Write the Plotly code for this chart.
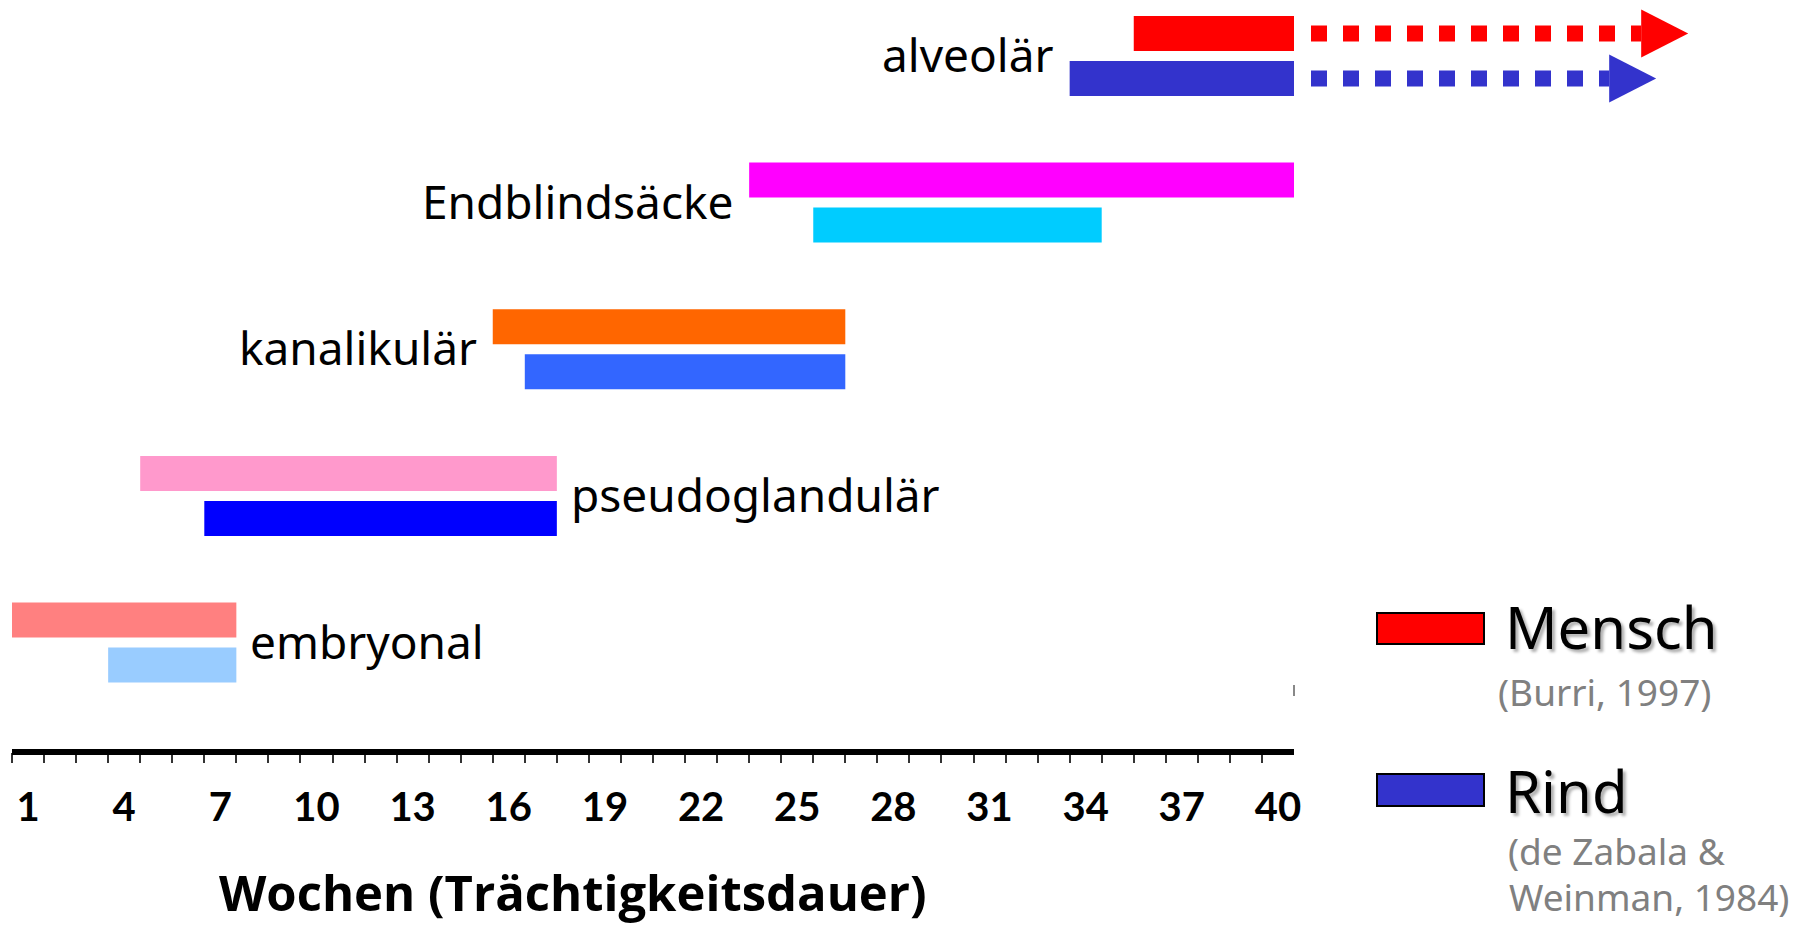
import plotly.graph_objects as go

# ---------------- data ----------------
phases = ["embryonal", "pseudoglandulär", "kanalikulär", "Endblindsäcke", "alveolär"]
# start / end of each phase on a continuous week scale (week w spans [w-1, w])
mensch_start = [0, 4, 15, 23, 35]
mensch_end = [7, 17, 26, 40, 40]
rind_start = [3, 6, 16, 25, 33]
rind_end = [7, 17, 26, 34, 40]
mensch_colors = ["#FF8080", "#FF99CC", "#FF6600", "#FF00FF", "#FF0000"]
rind_colors = ["#99CCFF", "#0000FF", "#3366FF", "#00CCFF", "#3333CC"]
label_side = ["right", "right", "left", "left", "left"]
tick_weeks = [1, 4, 7, 10, 13, 16, 19, 22, 25, 28, 31, 34, 37, 40]
n_weeks = 40
# alveolar phase continues after birth (dotted arrows): arrow tip positions
mensch_arrow_tip = 52.3
rind_arrow_tip = 51.3

# ---------------- geometry / style ----------------
W, H = 1800, 925
PLOT_BOTTOM = 752            # pixel row of the time axis
PX_PER_WEEK = 32.05
X0_PX = 12
ROW_PX = 146.65
ROW0_PX = 642.55
x_range = [-X0_PX / PX_PER_WEEK, (W - X0_PX) / PX_PER_WEEK]
y_range = [(ROW0_PX - PLOT_BOTTOM) / ROW_PX, ROW0_PX / ROW_PX]
off = 22.5 / ROW_PX          # half distance between the two bars of a phase
bar_w = 35 / ROW_PX
tri_half = 24 / ROW_PX
tri_len = 47 / PX_PER_WEEK
dot_start = n_weeks + 17 / PX_PER_WEEK

LABEL_FONT = "Noto Sans"
AXIS_FONT = "Lato"
TITLE_FONT = "Open Sans"


def px(xp):
    return xp / W


def py(yp):
    return (PLOT_BOTTOM - yp) / PLOT_BOTTOM


idx = list(range(len(phases)))
fig = go.Figure()

fig.add_trace(go.Bar(
    orientation="h",
    y=[i + off for i in idx],
    base=mensch_start,
    x=[e - s for s, e in zip(mensch_start, mensch_end)],
    width=bar_w,
    marker=dict(color=mensch_colors, line=dict(width=0)),
    name="Mensch",
    hovertext=phases,
))
fig.add_trace(go.Bar(
    orientation="h",
    y=[i - off for i in idx],
    base=rind_start,
    x=[e - s for s, e in zip(rind_start, rind_end)],
    width=bar_w,
    marker=dict(color=rind_colors, line=dict(width=0)),
    name="Rind",
    hovertext=phases,
))

# dotted continuation + arrow heads for the alveolar phase
alv = phases.index("alveolär")
for yc, tip, col in [(alv + off, mensch_arrow_tip, mensch_colors[alv]),
                     (alv - off, rind_arrow_tip, rind_colors[alv])]:
    base = tip - tri_len
    fig.add_trace(go.Scatter(
        x=[dot_start, base], y=[yc, yc], mode="lines",
        line=dict(color=col, width=16, dash="16px,16px"),
        hoverinfo="skip",
    ))
    fig.add_trace(go.Scatter(
        x=[base, tip, base, base], y=[yc + tri_half, yc, yc - tri_half, yc + tri_half],
        mode="lines", fill="toself", fillcolor=col, line=dict(width=0, color=col),
        hoverinfo="skip",
    ))

annotations = []
# phase labels
for i, name in enumerate(phases):
    if label_side[i] == "left":
        xa = min(mensch_start[i], rind_start[i])
        annotations.append(dict(x=xa, y=i, xref="x", yref="y", text=name, showarrow=False,
                                xanchor="right", yanchor="middle", xshift=-14, yshift=2,
                                font=dict(family=LABEL_FONT, size=46, color="black")))
    else:
        xa = max(mensch_end[i], rind_end[i])
        annotations.append(dict(x=xa, y=i, xref="x", yref="y", text=name, showarrow=False,
                                xanchor="left", yanchor="middle", xshift=12, yshift=2,
                                font=dict(family=LABEL_FONT, size=46, color="black")))

# axis title
annotations.append(dict(x=px(573), y=py(892), xref="paper", yref="paper",
                        text="Wochen (Trächtigkeitsdauer)", showarrow=False,
                        xanchor="center", yanchor="middle", borderpad=0,
                        font=dict(family=TITLE_FONT, size=49, color="black", weight="bold")))

# custom legend text
shadow = "3px 3px 3px #b0b0b0"
annotations += [
    dict(x=px(1503), y=py(626), text="Mensch", xanchor="left", yanchor="middle",
         font=dict(family=LABEL_FONT, size=58, color="black", shadow=shadow)),
    dict(x=px(1496), y=py(691), text="(Burri, 1997)", xanchor="left", yanchor="middle",
         font=dict(family=LABEL_FONT, size=37, color="#808080")),
    dict(x=px(1503), y=py(790), text="Rind", xanchor="left", yanchor="middle",
         font=dict(family=LABEL_FONT, size=58, color="black", shadow=shadow)),
    dict(x=px(1506), y=py(851), text="(de Zabala &", xanchor="left", yanchor="middle",
         font=dict(family=LABEL_FONT, size=37, color="#808080")),
    dict(x=px(1508), y=py(896), text="Weinman, 1984)", xanchor="left", yanchor="middle",
         borderpad=0, font=dict(family=LABEL_FONT, size=37, color="#808080")),
]
for a in annotations[-5:]:
    a.update(xref="paper", yref="paper", showarrow=False)

shapes = [
    # thick time axis line
    dict(type="line", xref="x", yref="paper", x0=0, x1=n_weeks, y0=0, y1=0,
         line=dict(color="black", width=6), layer="above"),
    # legend swatches
    dict(type="rect", xref="paper", yref="paper", x0=px(1377), x1=px(1484),
         y0=py(644), y1=py(613), fillcolor=mensch_colors[alv], line=dict(color="black", width=2)),
    dict(type="rect", xref="paper", yref="paper", x0=px(1377), x1=px(1484),
         y0=py(806), y1=py(774), fillcolor=rind_colors[alv], line=dict(color="black", width=2)),
    # small stray mark seen at the right end of the axis
    dict(type="line", xref="x", yref="paper", x0=n_weeks, x1=n_weeks,
         y0=py(696), y1=py(685), line=dict(color="#888888", width=2)),
]

fig.update_layout(
    width=W, height=H,
    margin=dict(l=0, r=0, t=0, b=H - PLOT_BOTTOM, pad=0),
    plot_bgcolor="white", paper_bgcolor="white",
    showlegend=False,
    barmode="overlay",
    annotations=annotations,
    shapes=shapes,
    xaxis=dict(
        range=x_range, showgrid=False, zeroline=False, showline=False,
        tickvals=[w - 0.5 for w in tick_weeks],
        ticktext=[str(w) for w in tick_weeks],
        ticks="", ticklabelstandoff=28,
        tickfont=dict(family=AXIS_FONT, size=40, color="black", weight="bold"),
        minor=dict(tickvals=list(range(n_weeks)), ticks="outside", ticklen=10,
                   tickwidth=2, tickcolor="#333333", showgrid=False),
    ),
    yaxis=dict(range=y_range, visible=False, showgrid=False, zeroline=False),
)

fig.write_html(
    "out.html",
    config={"displayModeBar": False},
    post_script="document.body.style.margin='0';document.body.style.overflow='hidden';",
)
